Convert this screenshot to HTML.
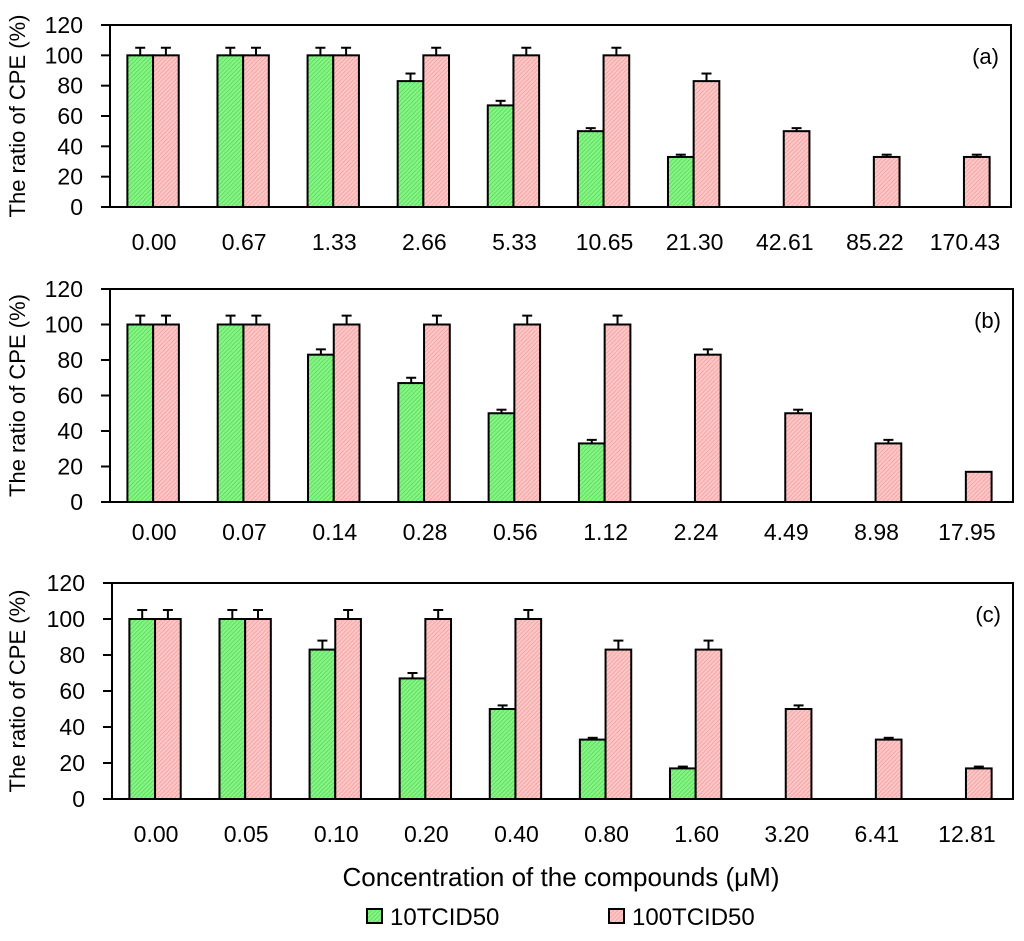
<!DOCTYPE html>
<html><head><meta charset="utf-8"><style>
body{margin:0;background:#fff}
svg text{font-family:"Liberation Sans",Arial,sans-serif;fill:#000}
</style></head><body>
<svg id="chart" width="1024" height="936" xmlns="http://www.w3.org/2000/svg">
<defs>
<pattern id="pg" width="3" height="3" patternUnits="userSpaceOnUse" patternTransform="rotate(45)"><rect width="3" height="3" fill="#88f488"/><rect width="1" height="3" fill="#5ee05e"/></pattern>
<pattern id="pp" width="3" height="3" patternUnits="userSpaceOnUse" patternTransform="rotate(45)"><rect width="3" height="3" fill="#ffc6c6"/><rect width="1" height="3" fill="#f0a8a8"/></pattern>
</defs>
<g id="panels"></g>
<text x="561" y="886" font-size="26" text-anchor="middle">Concentration of the compounds (μM)</text>
<rect x="367" y="909" width="15" height="14" fill="url(#pg)" stroke="#000" stroke-width="2"/>
<text x="390" y="925" font-size="24">10TCID50</text>
<rect x="609" y="909" width="15" height="14" fill="url(#pp)" stroke="#000" stroke-width="2"/>
<text x="632" y="925" font-size="24">100TCID50</text>
</svg>
<script>
const catsA=["0.00","0.67","1.33","2.66","5.33","10.65","21.30","42.61","85.22","170.43"];
const greenA=[100,100,100,83,67,50,33,null,null,null];
const pinkA=[100,100,100,100,100,100,83,50,33,33];
const gErrA=[5,5,5,5,3,2,1.5,0,0,0];
const pErrA=[5,5,5,5,5,5,5,2,1.5,1.5];
const catsB=["0.00","0.07","0.14","0.28","0.56","1.12","2.24","4.49","8.98","17.95"];
const greenB=[100,100,83,67,50,33,null,null,null,null];
const pinkB=[100,100,100,100,100,100,83,50,33,17];
const gErrB=[5,5,3,3,2,2,0,0,0,0];
const pErrB=[5,5,5,5,5,5,3,2,2,0];
const catsC=["0.00","0.05","0.10","0.20","0.40","0.80","1.60","3.20","6.41","12.81"];
const greenC=[100,100,83,67,50,33,17,null,null,null];
const pinkC=[100,100,100,100,100,83,83,50,33,17];
const gErrC=[5,5,5,3,2,1,1,0,0,0];
const pErrC=[5,5,5,5,5,5,5,2,1,1];
const yTicks=[0,20,40,60,80,100,120];

const NS="http://www.w3.org/2000/svg";
const root=document.getElementById('panels');
function mk(tag,attrs,parent){const e=document.createElementNS(NS,tag);for(const k in attrs)e.setAttribute(k,attrs[k]);parent.appendChild(e);return e;}

function panel(id,cats,g,p,ge,pe,L,R,T,B,labelY){
  const grp=mk('g',{},root);
  
  
  const y=v=>B-(v/120)*(B-T);
  const gw=(R-L)/cats.length;
  const bw=gw*0.285;
  const cx=i=>L+gw*(i+0.5)-2;
  yTicks.forEach(t=>{
    const ln=mk('line',{x1:L-9,x2:L,y1:y(t),y2:y(t),stroke:'#000','stroke-width':2},grp);
    
    
    const tx=mk('text',{x:L-27,y:y(t)+8,'font-size':23,'text-anchor':'end'},grp);
    
    
    tx.textContent=t;
  });
  cats.forEach((c,i)=>{
    const tx=mk('text',{x:cx(i)+1,y:labelY,'font-size':23,'text-anchor':'middle'},grp);
    
    
    tx.textContent=c;
    [[g,ge,'url(#pg)',-bw,'green'],[p,pe,'url(#pp)',0,'pink']].forEach(([arr,err,fill,off,nm])=>{
      const v=arr[i]; if(v==null)return;
      const x0=cx(i)+off;
      if(err[i]>0){
        const ec=x0+bw/2;
        const e1=mk('line',{x1:ec,x2:ec,y1:y(v),y2:y(v+err[i]),stroke:'#000','stroke-width':2},grp);
        
        
        const e2=mk('line',{x1:ec-5,x2:ec+5,y1:y(v+err[i]),y2:y(v+err[i]),stroke:'#000','stroke-width':2},grp);
        
        
      }
      const r=mk('rect',{x:x0,y:y(v),width:bw,height:B-y(v),fill:fill,stroke:'#000','stroke-width':2},grp);
      
      
    });
  });
  const box=mk('rect',{x:L,y:T,width:R-L,height:B-T,fill:'none',stroke:'#000','stroke-width':2},grp);
  
  
  const pl=mk('text',{x:R-12,y:T+39,'font-size':22,'text-anchor':'end'},grp);
  
  
  pl.textContent='('+id+')';
  const yt=mk('text',{x:0,y:0,'font-size':22,'text-anchor':'middle',transform:`translate(25,${(T+B)/2}) rotate(-90)`},grp);
  
  
  yt.textContent='The ratio of CPE (%)';
}
panel('a',catsA,greenA,pinkA,gErrA,pErrA,110,1011,25,207,250);
panel('b',catsB,greenB,pinkB,gErrB,pErrB,110,1013,289,502,540);
panel('c',catsC,greenC,pinkC,gErrC,pErrC,112,1013,583,799,842);
</script>
</body></html>
